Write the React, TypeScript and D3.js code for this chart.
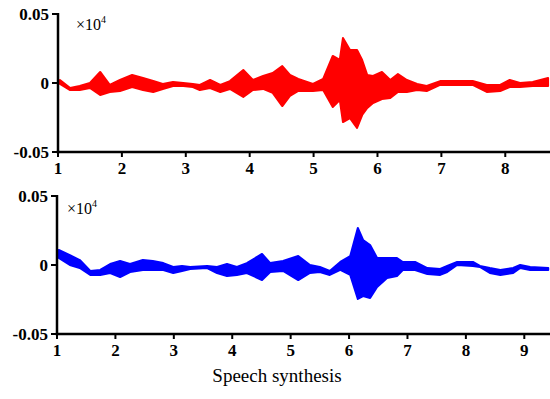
import React from "react";
import * as d3 from "d3";

// Top panel (red): time, upper envelope, lower envelope
const topTime = [1.03,1.19,1.34,1.5,1.66,1.81,1.97,2.16,2.33,2.49,2.64,2.8,2.96,3.11,3.22,3.38,3.54,3.69,3.9,4.05,4.21,4.36,4.51,4.63,4.76,4.99,5.15,5.3,5.41,5.46,5.57,5.68,5.76,5.84,5.93,6.07,6.2,6.32,6.46,6.62,6.77,6.98,7.49,7.71,7.92,8.07,8.23,8.43,8.67];
const topUpper = [0.0022,-0.0036,-0.0022,0,0.008,-0.0014,0.0022,0.0058,0.0036,0.0014,-0.0007,0.0007,0,-0.0007,-0.0014,0.0022,-0.0014,0.0014,0.0094,0.0022,0.0051,0.0072,0.0123,0.0058,0.0029,-0.0007,0.0029,0.0196,0.0167,0.0326,0.0239,0.0239,0.0167,0.0058,0.0051,0.008,0.0022,0.0065,0.0022,-0.0007,-0.0022,0.0014,0.0014,-0.0014,-0.0014,0.0022,0,0.0007,0.0036];
const topLower = [-0.0007,-0.0051,-0.0051,-0.0036,-0.0087,-0.0065,-0.0058,-0.0029,-0.0051,-0.0065,-0.0043,-0.0022,-0.0022,-0.0029,-0.0051,-0.0036,-0.0065,-0.0043,-0.0101,-0.0051,-0.0043,-0.0072,-0.0167,-0.0094,-0.0058,-0.0058,-0.0051,-0.0174,-0.0123,-0.0283,-0.0254,-0.0326,-0.0232,-0.0181,-0.0145,-0.0116,-0.0109,-0.0065,-0.0065,-0.0051,-0.0058,-0.0014,-0.0014,-0.0065,-0.0058,-0.0029,-0.0029,-0.0022,-0.0022];

// Bottom panel (blue)
const botTime = [1.03,1.22,1.39,1.57,1.74,1.91,2.08,2.25,2.47,2.64,2.82,2.99,3.14,3.28,3.57,3.74,3.91,4.08,4.25,4.51,4.65,4.87,5.13,5.33,5.5,5.67,5.85,6.02,6.15,6.24,6.36,6.48,6.65,6.82,6.92,7.13,7.34,7.56,7.68,7.85,8.12,8.24,8.41,8.59,8.81,8.93,9.1,9.41];
const botUpper = [0.0109,0.0072,0.0036,-0.0043,-0.0036,0.0007,0.0029,0.0007,0.0036,0.0029,0.0014,-0.0014,-0.0007,-0.0014,-0.0007,-0.0014,0.0007,-0.0014,0.0014,0.008,0.0014,0.0029,0.0065,0,-0.0014,-0.0043,0.0022,0.0065,0.0268,0.0181,0.0145,0.0051,0.0051,0.0051,0.0022,0.0022,-0.0022,-0.0029,-0.0007,0.0022,0.0022,-0.0007,-0.0022,-0.0036,-0.0022,0,-0.0014,-0.0022];
const botLower = [0.0051,0,-0.0022,-0.0072,-0.0072,-0.0058,-0.0087,-0.0051,-0.0036,-0.0036,-0.0036,-0.0058,-0.0043,-0.0029,-0.0022,-0.0058,-0.008,-0.0072,-0.0058,-0.0109,-0.0051,-0.0043,-0.0109,-0.0058,-0.0051,-0.0072,-0.0036,-0.0072,-0.0246,-0.0225,-0.0239,-0.0159,-0.0094,-0.008,-0.0036,-0.0036,-0.0065,-0.0072,-0.0051,0,-0.0007,-0.0014,-0.0058,-0.0072,-0.0058,-0.0022,-0.0036,-0.0036];

const topTicks = [1, 2, 3, 4, 5, 6, 7, 8];
const botTicks = [1, 2, 3, 4, 5, 6, 7, 8, 9];
const yTicks = [0.05, 0, -0.05];
const yTickLabels = ["0.05", "0", "-0.05"];
const xLabel = "Speech synthesis";

type Panel = {
  time: number[]; upper: number[]; lower: number[]; ticks: number[];
  xDomain: [number, number]; xRange: [number, number]; yRange: [number, number];
  color: string; multX: number; multY: number;
};

const panels: Panel[] = [
  { time: topTime, upper: topUpper, lower: topLower, ticks: topTicks, xDomain: [1, 8.7], xRange: [58, 550], yRange: [152, 14], color: "#ff0000", multX: 76, multY: 30 },
  { time: botTime, upper: botUpper, lower: botLower, ticks: botTicks, xDomain: [1, 9.44], xRange: [57, 550], yRange: [334, 196], color: "#0000ff", multX: 67, multY: 214 },
];

const font = "'Liberation Serif', 'Times New Roman', serif";

function PanelView({ p }: { p: Panel }) {
  const x = d3.scaleLinear().domain(p.xDomain).range(p.xRange);
  const y = d3.scaleLinear().domain([-0.05, 0.05]).range(p.yRange);
  const data = p.time.map((t, i) => ({ t, u: p.upper[i], l: p.lower[i] }));
  const area = d3.area<{ t: number; u: number; l: number }>()
    .x(d => x(d.t)).y0(d => y(d.l)).y1(d => y(d.u));
  const x0 = p.xRange[0];
  const yb = p.yRange[0];
  return (
    <g>
      <path d={area(data) || ""} fill={p.color} stroke={p.color} strokeWidth={2} strokeLinejoin="round" />
      <line x1={x0} x2={x0} y1={p.yRange[1] - 1} y2={yb + 1.25} stroke="#000" strokeWidth={2.5} />
      <line x1={x0 - 1.25} x2={550} y1={yb} y2={yb} stroke="#000" strokeWidth={2.5} />
      {yTicks.map((v, i) => (
        <g key={i}>
          <line x1={x0 - 6} x2={x0} y1={y(v)} y2={y(v)} stroke="#000" strokeWidth={2} />
          <text x={x0 - 9} y={y(v) + 6} textAnchor="end" fontFamily={font} fontWeight="bold" fontSize={17}>{yTickLabels[i]}</text>
        </g>
      ))}
      {p.ticks.map(t => (
        <g key={t}>
          <line x1={x(t)} x2={x(t)} y1={yb} y2={yb + 5} stroke="#000" strokeWidth={2} />
          <text x={x(t)} y={yb + 22} textAnchor="middle" fontFamily={font} fontWeight="bold" fontSize={17}>{t}</text>
        </g>
      ))}
      <text x={p.multX} y={p.multY} fontFamily={font} fontSize={16}>
        ×10<tspan dy={-7} fontSize={10}>4</tspan>
      </text>
    </g>
  );
}

export default function App() {
  return (
    <svg width={550} height={399} style={{ position: "absolute", left: 0, top: 0, background: "#fff" }}>
      <rect width={550} height={399} fill="#fff" />
      {panels.map((p, i) => <PanelView key={i} p={p} />)}
      <text x={277} y={382} textAnchor="middle" fontFamily={font} fontSize={19}>{xLabel}</text>
    </svg>
  );
}
